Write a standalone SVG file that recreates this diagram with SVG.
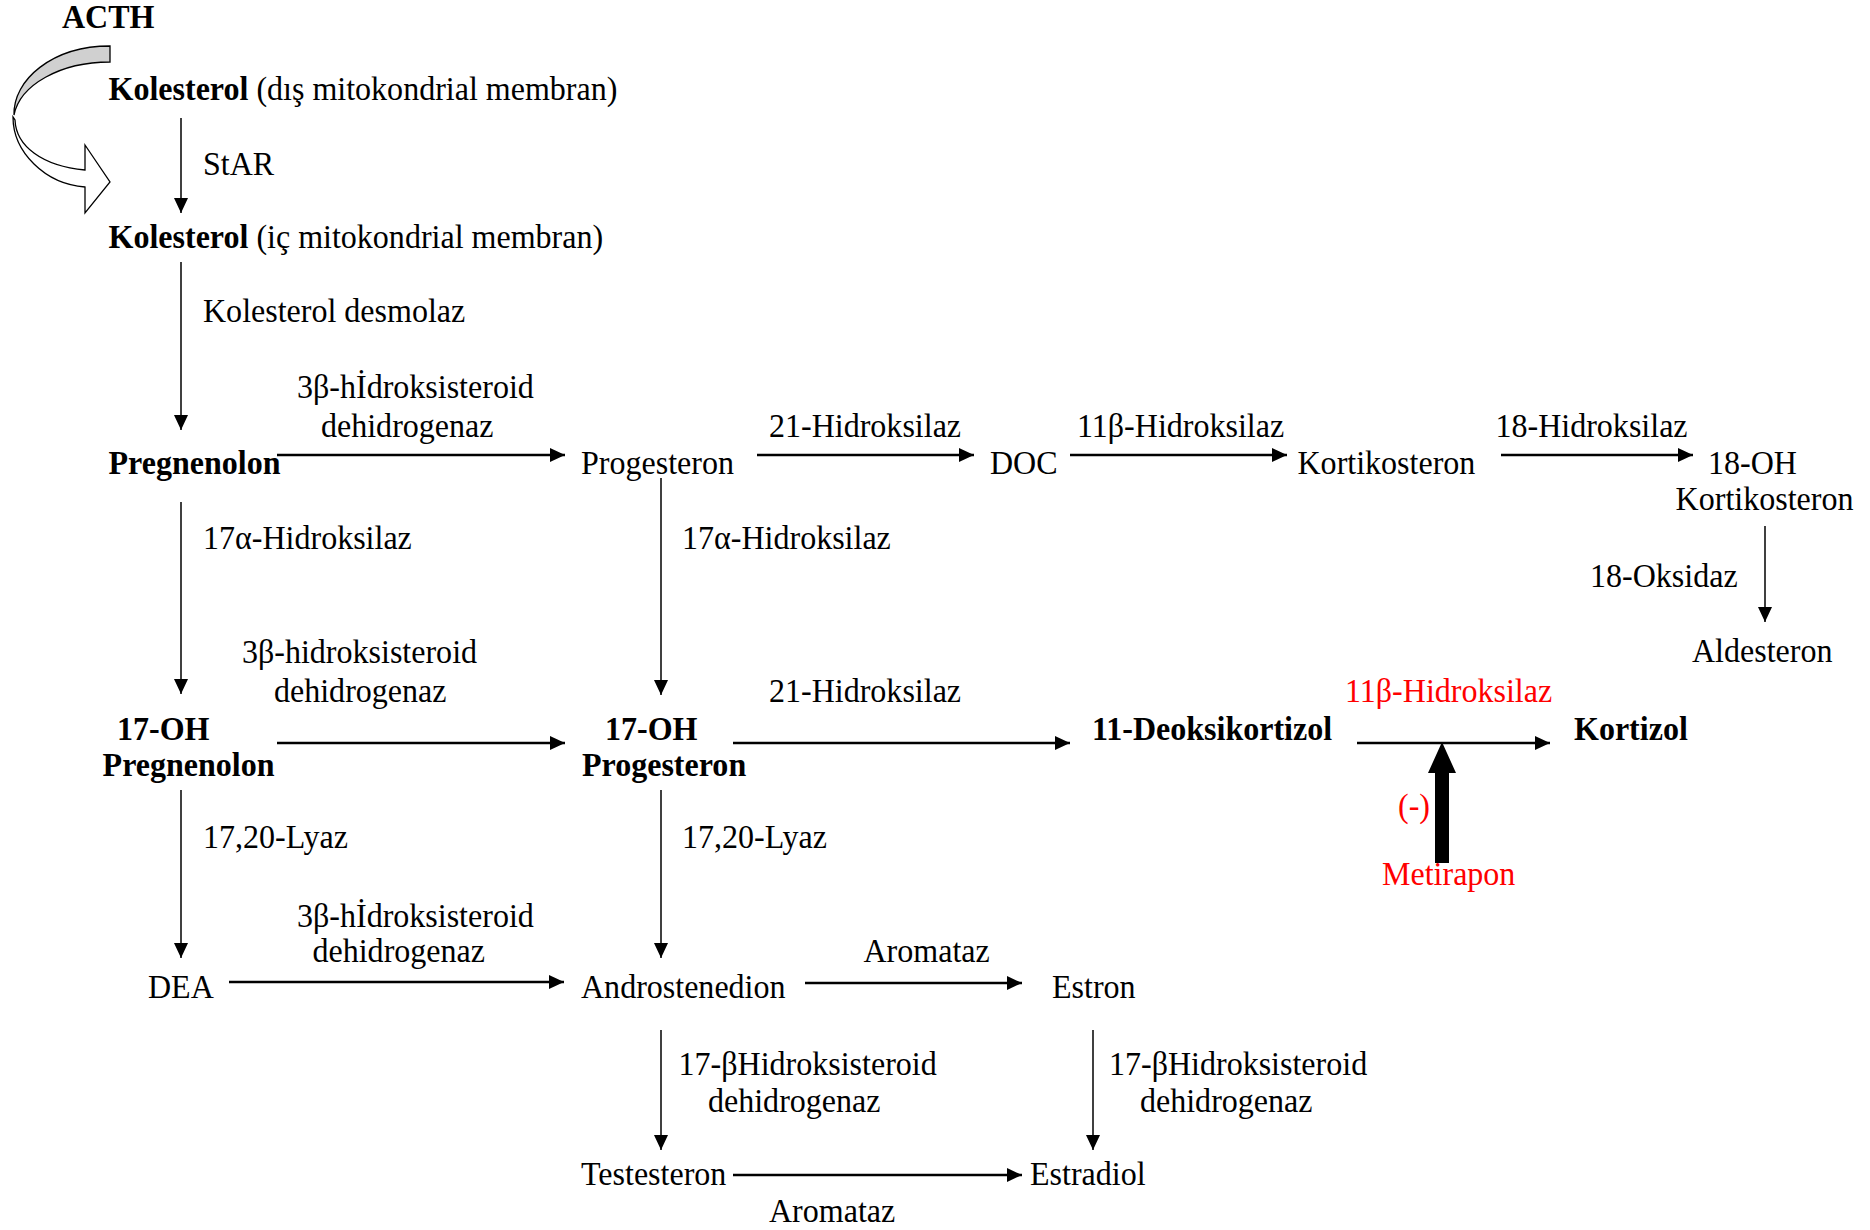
<svg xmlns="http://www.w3.org/2000/svg" width="1870" height="1230" viewBox="0 0 1870 1230">
<style>
text{font-family:"Liberation Serif","Times New Roman",serif;font-size:34px;fill:#000}
.b{font-weight:bold}
.r{fill:#ff0000}
.v{stroke:#000;stroke-width:1.5;fill:none}
.h{stroke:#000;stroke-width:2.5;fill:none}
</style>
<defs>
<marker id="ah" viewBox="0 0 15 14" refX="15" refY="7" markerWidth="15" markerHeight="14" markerUnits="userSpaceOnUse" orient="auto">
<path d="M0,0 L15,7 L0,14 Z" fill="#000"/>
</marker>
</defs>
<rect width="1870" height="1230" fill="#fff"/>

<g id="acth">
<text class="b" transform="matrix(0.942 0 0 1 62 28)">ACTH</text>
<path d="M110,46 L110,62 C60,62 20,85 14,115 C13,80 52,46 110,46 Z" fill="#d0d0d0" stroke="#000" stroke-width="1.3"/>
<path d="M13,117 C13,152 45,184 85,187 L85,213 L110,182 L85,145 L85,170 C42,166 16,146 15,120 Z" fill="#fff" stroke="#000" stroke-width="1.3"/>
</g>

<g id="kol-dis"><text transform="matrix(0.942 0 0 1 108.5 100)"><tspan class="b">Kolesterol</tspan> (dış mitokondrial membran)</text></g>
<g id="kol-ic"><text transform="matrix(0.942 0 0 1 108.5 248)"><tspan class="b">Kolesterol</tspan> (iç mitokondrial membran)</text></g>
<g id="pregnenolon"><text class="b" transform="matrix(0.942 0 0 1 108.5 474)">Pregnenolon</text></g>
<g id="progesteron"><text transform="matrix(0.942 0 0 1 581 474)">Progesteron</text></g>
<g id="doc"><text transform="matrix(0.942 0 0 1 990 474)">DOC</text></g>
<g id="kortikosteron"><text transform="matrix(0.942 0 0 1 1297.5 474)">Kortikosteron</text></g>
<g id="oh18-kortikosteron">
<text transform="matrix(0.942 0 0 1 1708 474)">18-OH</text>
<text transform="matrix(0.942 0 0 1 1675.6 510)">Kortikosteron</text>
</g>
<g id="aldesteron"><text transform="matrix(0.942 0 0 1 1692 662)">Aldesteron</text></g>
<g id="oh17-pregnenolon">
<text class="b" transform="matrix(0.942 0 0 1 117 740)">17-OH</text>
<text class="b" transform="matrix(0.942 0 0 1 102.6 776)">Pregnenolon</text>
</g>
<g id="oh17-progesteron">
<text class="b" transform="matrix(0.942 0 0 1 605 740)">17-OH</text>
<text class="b" transform="matrix(0.942 0 0 1 582 776)">Progesteron</text>
</g>
<g id="deoksikortizol"><text class="b" transform="matrix(0.942 0 0 1 1092 740)">11-Deoksikortizol</text></g>
<g id="kortizol"><text class="b" transform="matrix(0.942 0 0 1 1574 740)">Kortizol</text></g>
<g id="metirapon">
<text class="r" transform="matrix(0.942 0 0 1 1398 817)">(-)</text>
<text class="r" transform="matrix(0.942 0 0 1 1382 885)">Metirapon</text>
</g>
<g id="dea"><text transform="matrix(0.942 0 0 1 148 998)">DEA</text></g>
<g id="androstenedion"><text transform="matrix(0.942 0 0 1 581 998)">Androstenedion</text></g>
<g id="estron"><text transform="matrix(0.942 0 0 1 1052 998)">Estron</text></g>
<g id="testesteron"><text transform="matrix(0.942 0 0 1 581 1185)">Testesteron</text></g>
<g id="estradiol"><text transform="matrix(0.942 0 0 1 1030 1185)">Estradiol</text></g>

<g id="connectors">
<line class="v" x1="181" y1="118" x2="181" y2="213" marker-end="url(#ah)"/>
<line class="v" x1="181" y1="262" x2="181" y2="430" marker-end="url(#ah)"/>
<line class="v" x1="181" y1="502" x2="181" y2="694" marker-end="url(#ah)"/>
<line class="v" x1="661" y1="478" x2="661" y2="695" marker-end="url(#ah)"/>
<line class="v" x1="181" y1="790" x2="181" y2="958" marker-end="url(#ah)"/>
<line class="v" x1="661" y1="790" x2="661" y2="958" marker-end="url(#ah)"/>
<line class="v" x1="661" y1="1030" x2="661" y2="1150" marker-end="url(#ah)"/>
<line class="v" x1="1093" y1="1030" x2="1093" y2="1150" marker-end="url(#ah)"/>
<line class="v" x1="1765" y1="526" x2="1765" y2="622" marker-end="url(#ah)"/>
<line class="h" x1="277" y1="455" x2="565" y2="455" marker-end="url(#ah)"/>
<line class="h" x1="757" y1="455" x2="974" y2="455" marker-end="url(#ah)"/>
<line class="h" x1="1070" y1="455" x2="1287" y2="455" marker-end="url(#ah)"/>
<line class="h" x1="1501" y1="455" x2="1693" y2="455" marker-end="url(#ah)"/>
<line class="h" x1="277" y1="743" x2="565" y2="743" marker-end="url(#ah)"/>
<line class="h" x1="733" y1="743" x2="1070" y2="743" marker-end="url(#ah)"/>
<line class="h" x1="1357" y1="743" x2="1550" y2="743" marker-end="url(#ah)"/>
<line class="h" x1="229" y1="982" x2="564" y2="982" marker-end="url(#ah)"/>
<line class="h" x1="805" y1="983" x2="1022" y2="983" marker-end="url(#ah)"/>
<line class="h" x1="733" y1="1175" x2="1022" y2="1175" marker-end="url(#ah)"/>
<polygon points="1435,863 1435,773 1428,773 1442,742 1456,773 1449,773 1449,863" fill="#000"/>
</g>

<g id="labels">
<text transform="matrix(0.942 0 0 1 203 175)">StAR</text>
<text transform="matrix(0.942 0 0 1 203 322)">Kolesterol desmolaz</text>
<text transform="matrix(0.942 0 0 1 297 398)">3β-hİdroksisteroid</text>
<text transform="matrix(0.942 0 0 1 321 437)">dehidrogenaz</text>
<text transform="matrix(0.942 0 0 1 769 437)">21-Hidroksilaz</text>
<text transform="matrix(0.942 0 0 1 1077 437)">11β-Hidroksilaz</text>
<text transform="matrix(0.942 0 0 1 1495.5 437)">18-Hidroksilaz</text>
<text transform="matrix(0.942 0 0 1 203 549)">17α-Hidroksilaz</text>
<text transform="matrix(0.942 0 0 1 682 549)">17α-Hidroksilaz</text>
<text transform="matrix(0.942 0 0 1 1590 587)">18-Oksidaz</text>
<text transform="matrix(0.942 0 0 1 242 663)">3β-hidroksisteroid</text>
<text transform="matrix(0.942 0 0 1 274 702)">dehidrogenaz</text>
<text transform="matrix(0.942 0 0 1 769 702)">21-Hidroksilaz</text>
<text class="r" transform="matrix(0.942 0 0 1 1345 702)">11β-Hidroksilaz</text>
<text transform="matrix(0.942 0 0 1 203 848)">17,20-Lyaz</text>
<text transform="matrix(0.942 0 0 1 682 848)">17,20-Lyaz</text>
<text transform="matrix(0.942 0 0 1 297 927)">3β-hİdroksisteroid</text>
<text transform="matrix(0.942 0 0 1 312.5 962)">dehidrogenaz</text>
<text transform="matrix(0.942 0 0 1 863.5 962)">Aromataz</text>
<text transform="matrix(0.942 0 0 1 678.6 1075)">17-βHidroksisteroid</text>
<text transform="matrix(0.942 0 0 1 708 1112)">dehidrogenaz</text>
<text transform="matrix(0.942 0 0 1 1109 1075)">17-βHidroksisteroid</text>
<text transform="matrix(0.942 0 0 1 1140 1112)">dehidrogenaz</text>
<text transform="matrix(0.942 0 0 1 769 1222)">Aromataz</text>
</g>
</svg>
